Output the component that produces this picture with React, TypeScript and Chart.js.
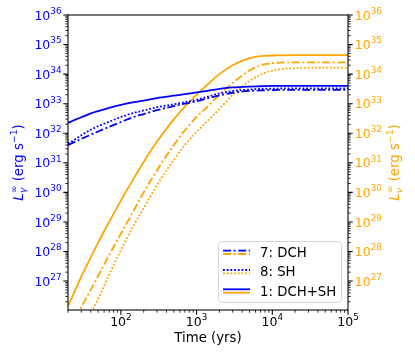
import React, { useEffect, useRef } from "react";
import { Chart, registerables } from "chart.js";

Chart.register(...registerables);

// ---- data (time in years, luminosity as log10 erg/s) ----
const times = [20, 25, 30, 40, 50, 70, 100, 150, 200, 300, 500, 700, 1000, 1500, 2000, 3000, 5000, 7000, 10000, 20000, 50000, 100000];

// photon luminosity L_gamma (left axis, blue)
const logLgammaDCH = [31.6, 31.72, 31.81, 31.95, 32.06, 32.22, 32.38, 32.56, 32.65, 32.78, 32.92, 33.0, 33.08, 33.2, 33.28, 33.37, 33.43, 33.45, 33.46, 33.47, 33.47, 33.47];
const logLgammaSH = [31.65, 31.8, 31.93, 32.12, 32.24, 32.39, 32.55, 32.69, 32.77, 32.88, 32.98, 33.05, 33.13, 33.26, 33.35, 33.43, 33.48, 33.5, 33.51, 33.52, 33.52, 33.52];
const logLgammaDCHSH = [32.35, 32.46, 32.54, 32.67, 32.75, 32.86, 32.96, 33.05, 33.1, 33.19, 33.27, 33.32, 33.38, 33.45, 33.5, 33.55, 33.58, 33.59, 33.6, 33.6, 33.6, 33.6];

// neutrino luminosity L_nu (right axis, orange)
const logLnuDCH = [25.3, 25.75, 26.12, 26.7, 27.17, 27.88, 28.6, 29.42, 30.0, 30.75, 31.6, 32.1, 32.55, 32.98, 33.3, 33.7, 34.12, 34.3, 34.37, 34.4, 34.4, 34.4];
const logLnuSH = [24.1, 24.7, 25.2, 25.88, 26.4, 27.22, 28.05, 28.92, 29.47, 30.25, 31.1, 31.6, 32.05, 32.5, 32.82, 33.3, 33.77, 33.98, 34.12, 34.2, 34.22, 34.22];
const logLnuDCHSH = [26.15, 26.7, 27.15, 27.8, 28.3, 29.0, 29.72, 30.5, 31.03, 31.72, 32.47, 32.9, 33.3, 33.72, 34.0, 34.3, 34.54, 34.61, 34.63, 34.64, 34.64, 34.64];

const legendLabels = ["7: DCH", "8: SH", "1: DCH+SH"];
const xTitle = "Time (yrs)";

const X_MIN = 20;
const X_MAX = 1e5;
const Y_MIN = 1.05e26;
const Y_MAX = 1e36;

const BLUE = "#0000ff";
const ORANGE = "#ffa500";
const LW = 1.8;
const DASHDOT = [8, 2.6, 2, 2.6];
const DOTTED = [1.8, 1.9];

const FONT = '"DejaVu Sans", sans-serif';
const f = (size: number, italic = false) => `${italic ? "italic " : ""}${size}px ${FONT}`;

type Part = { t: string; size: number; dy: number; italic?: boolean; stack?: boolean };

function drawRich(ctx: CanvasRenderingContext2D, parts: Part[], cx: number, baseY: number, align: "center" | "left" | "right", color: string) {
  // measure
  let total = 0;
  let lastStart = 0;
  let lastW = 0;
  const pos: number[] = [];
  for (const p of parts) {
    ctx.font = f(p.size, p.italic);
    const w = ctx.measureText(p.t).width;
    if (p.stack) {
      pos.push(lastStart);
      const adv = Math.max(lastW, w);
      total = lastStart + adv;
      lastW = adv;
    } else {
      pos.push(total);
      lastStart = total;
      lastW = w;
      total += w;
    }
  }
  let x0 = cx;
  if (align === "center") x0 = cx - total / 2;
  else if (align === "right") x0 = cx - total;
  ctx.fillStyle = color;
  ctx.textBaseline = "alphabetic";
  ctx.textAlign = "left";
  parts.forEach((p, i) => {
    ctx.font = f(p.size, p.italic);
    ctx.fillText(p.t, x0 + pos[i], baseY + p.dy);
  });
}

const SUP: Record<string, string> = {};
function powParts(exp: number): Part[] {
  return [
    { t: "10", size: 12.5, dy: 0 },
    { t: String(exp), size: 8.8, dy: -5.7 },
  ];
}

function logTicks(min: number, max: number) {
  const out: { v: number; major: boolean; exp: number }[] = [];
  const lo = Math.floor(Math.log10(min));
  const hi = Math.ceil(Math.log10(max));
  for (let n = lo; n <= hi; n++) {
    for (let k = 1; k <= 9; k++) {
      const v = k * Math.pow(10, n);
      if (v >= min * 0.9999 && v <= max * 1.0001) out.push({ v, major: k === 1, exp: n });
    }
  }
  return out;
}

const axesPlugin = {
  id: "mplAxes",
  afterDatasetsDraw(chart: any) {
    const ctx: CanvasRenderingContext2D = chart.ctx;
    const a = chart.chartArea;
    const xs = chart.scales.x;
    const yl = chart.scales.y;
    const yr = chart.scales.y2;
    ctx.save();

    // legend
    const bx = 218.5, by = 241.5, bw = 123, bh = 61, r = 3;
    ctx.beginPath();
    ctx.moveTo(bx + r, by);
    ctx.lineTo(bx + bw - r, by);
    ctx.quadraticCurveTo(bx + bw, by, bx + bw, by + r);
    ctx.lineTo(bx + bw, by + bh - r);
    ctx.quadraticCurveTo(bx + bw, by + bh, bx + bw - r, by + bh);
    ctx.lineTo(bx + r, by + bh);
    ctx.quadraticCurveTo(bx, by + bh, bx, by + bh - r);
    ctx.lineTo(bx, by + r);
    ctx.quadraticCurveTo(bx, by, bx + r, by);
    ctx.closePath();
    ctx.fillStyle = "rgba(255,255,255,0.8)";
    ctx.fill();
    ctx.strokeStyle = "#d6d6d6";
    ctx.lineWidth = 1;
    ctx.stroke();

    const rows = [252.3, 271.7, 291];
    const dashes = [DASHDOT, DOTTED, []];
    rows.forEach((ry, i) => {
      ctx.lineWidth = LW;
      ctx.setLineDash(dashes[i]);
      ctx.strokeStyle = BLUE;
      ctx.beginPath();
      ctx.moveTo(223, ry - 1.7);
      ctx.lineTo(250, ry - 1.7);
      ctx.stroke();
      ctx.strokeStyle = ORANGE;
      ctx.beginPath();
      ctx.moveTo(223, ry + 1.7);
      ctx.lineTo(250, ry + 1.7);
      ctx.stroke();
      ctx.setLineDash([]);
      ctx.fillStyle = "#000";
      ctx.font = f(13.3);
      ctx.textAlign = "left";
      ctx.textBaseline = "alphabetic";
      ctx.fillText(legendLabels[i], 260, ry + 4.7);
    });

    // frame
    ctx.setLineDash([]);
    ctx.strokeStyle = "#000";
    ctx.lineWidth = 1.07;
    ctx.strokeRect(a.left, a.top, a.right - a.left, a.bottom - a.top);

    // x ticks
    for (const t of logTicks(X_MIN, X_MAX)) {
      const px = xs.getPixelForValue(t.v);
      ctx.lineWidth = t.major ? 1.07 : 0.8;
      const len = t.major ? 4.7 : 2.7;
      ctx.beginPath();
      ctx.moveTo(px, a.bottom);
      ctx.lineTo(px, a.bottom + len);
      ctx.stroke();
      if (t.major) drawRich(ctx, powParts(t.exp), px, 326, "center", "#000");
    }
    // y ticks left & right
    for (const t of logTicks(Y_MIN, Y_MAX)) {
      const pl = yl.getPixelForValue(t.v);
      const pr = yr.getPixelForValue(t.v);
      ctx.strokeStyle = "#000";
      ctx.lineWidth = t.major ? 1.07 : 0.8;
      const len = t.major ? 4.7 : 2.7;
      ctx.beginPath();
      ctx.moveTo(a.left, pl);
      ctx.lineTo(a.left - len, pl);
      ctx.moveTo(a.right, pr);
      ctx.lineTo(a.right + len, pr);
      ctx.stroke();
      if (t.major) {
        drawRich(ctx, powParts(t.exp), a.left - 6.5, pl + 4.6, "right", BLUE);
        drawRich(ctx, powParts(t.exp), a.right + 6.8, pr + 4.6, "left", ORANGE);
      }
    }

    // x title
    drawRich(ctx, [{ t: xTitle, size: 13.3, dy: 0 }], (a.left + a.right) / 2, 341.5, "center", "#000");

    // y titles
    const titleParts = (sub: string): Part[] => [
      { t: "L", size: 13.3, dy: 0, italic: true },
      { t: sub, size: 9.3, dy: 3.2, italic: true },
      { t: "\u221e", size: 9.3, dy: -6, stack: true },
      { t: " (erg s", size: 13.3, dy: 0 },
      { t: "\u22121", size: 9.3, dy: -6 },
      { t: ")", size: 13.3, dy: 0 },
    ];
    const midY = (a.top + a.bottom) / 2;
    ctx.save();
    ctx.translate(18, midY);
    ctx.rotate(-Math.PI / 2);
    drawRich(ctx, titleParts("\u03b3"), 0, 4.8, "center", BLUE);
    ctx.restore();
    ctx.save();
    ctx.translate(394, midY);
    ctx.rotate(-Math.PI / 2);
    drawRich(ctx, titleParts("\u03bd"), 0, 4.8, "center", ORANGE);
    ctx.restore();

    ctx.restore();
  },
};

function series(vals: number[]) {
  return times.map((t, i) => ({ x: t, y: Math.pow(10, vals[i]) }));
}

export default function App() {
  const ref = useRef<HTMLCanvasElement | null>(null);
  useEffect(() => {
    if (!ref.current) return;
    const common = { pointRadius: 0, borderWidth: LW, fill: false, cubicInterpolationMode: "monotone" as const, clip: 0 };
    const chart = new Chart(ref.current, {
      type: "line",
      data: {
        datasets: [
          { ...common, data: series(logLgammaDCH), borderColor: BLUE, borderDash: DASHDOT, yAxisID: "y" },
          { ...common, data: series(logLgammaSH), borderColor: BLUE, borderDash: DOTTED, yAxisID: "y" },
          { ...common, data: series(logLgammaDCHSH), borderColor: BLUE, yAxisID: "y" },
          { ...common, data: series(logLnuDCH), borderColor: ORANGE, borderDash: DASHDOT, yAxisID: "y2" },
          { ...common, data: series(logLnuSH), borderColor: ORANGE, borderDash: DOTTED, yAxisID: "y2" },
          { ...common, data: series(logLnuDCHSH), borderColor: ORANGE, yAxisID: "y2" },
        ],
      },
      options: {
        animation: false,
        responsive: false,
        devicePixelRatio: 1,
        layout: { padding: { left: 68, right: 67, top: 15, bottom: 46 } },
        plugins: { legend: { display: false }, tooltip: { enabled: false } },
        scales: {
          x: { type: "logarithmic", min: X_MIN, max: X_MAX, display: false },
          y: { type: "logarithmic", position: "left", min: Y_MIN, max: Y_MAX, display: false },
          y2: { type: "logarithmic", position: "right", min: Y_MIN, max: Y_MAX, display: false },
        },
      },
      plugins: [axesPlugin],
    });
    return () => chart.destroy();
  }, []);
  return (
    <div style={{ position: "fixed", left: 0, top: 0, width: 415, height: 356, background: "#fff" }}>
      <canvas ref={ref} width={415} height={356} style={{ width: 415, height: 356 }} />
    </div>
  );
}
